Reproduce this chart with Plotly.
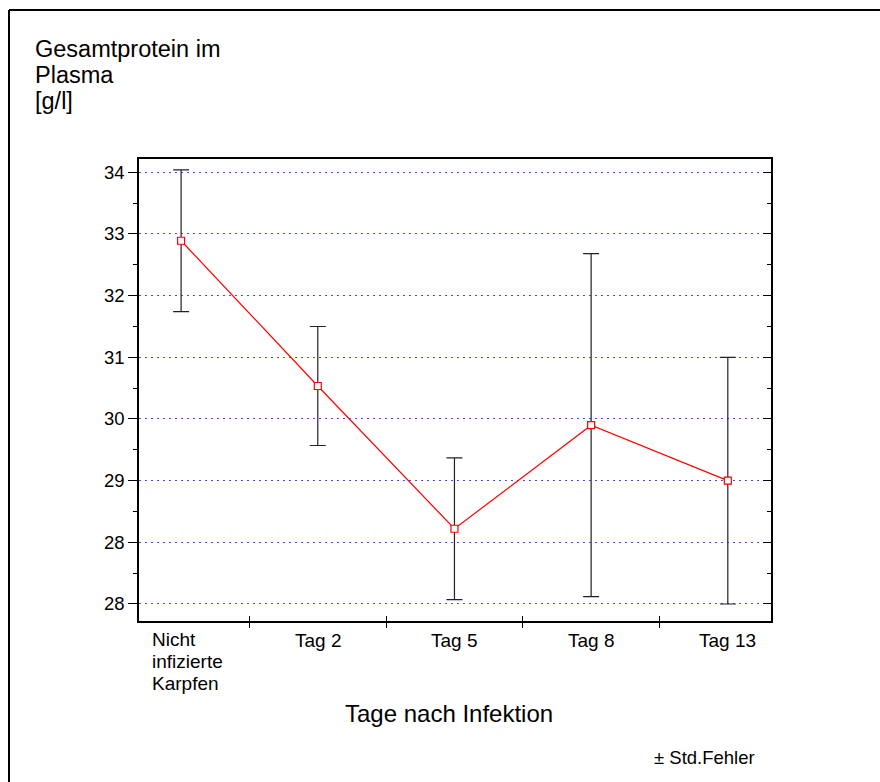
import plotly.graph_objects as go

# ---- data ----
categories = ["Nicht\ninfizierte\nKarpfen", "Tag 2", "Tag 5", "Tag 8", "Tag 13"]
means = [32.89, 30.535, 28.22, 29.90, 29.00]
std_err = [1.15, 0.965, 1.15, 2.78, 2.00]
y_tickvals = [27, 28, 29, 30, 31, 32, 33, 34]
y_ticktext = ["28", "28", "29", "30", "31", "32", "33", "34"]
x_divider_ticks = [0.5, 1.5, 2.5, 3.5]

W, H = 880, 782
L, R, T, B = 139, 109, 159, 161
PW, PH = W - L - R, H - T - B
FONT = "Liberation Sans, Arial, sans-serif"


def px_x(p):
    return (p - L) / PW


def px_y(p):
    return (H - B - p) / PH


xi = list(range(len(categories)))

fig = go.Figure()
fig.add_trace(go.Scatter(
    x=xi, y=means, mode="lines+markers",
    line=dict(color="#ff0000", width=1.2),
    marker=dict(symbol="square", size=7, color="white",
                line=dict(color="#ff0000", width=1.2)),
    error_y=dict(type="data", array=std_err, symmetric=True,
                 color="#222222", thickness=1.2, width=8),
    showlegend=False, hoverinfo="x+y",
))
# invisible trace to activate secondary axes
fig.add_trace(go.Scatter(x=xi, y=means, xaxis="x2", yaxis="y2",
                         mode="markers", marker=dict(opacity=0),
                         showlegend=False, hoverinfo="skip"))

yr = [26.724, 34.216]
xr = [-0.308, 4.316]

fig.update_layout(
    width=W, height=H,
    margin=dict(l=L, r=R, t=T, b=B),
    paper_bgcolor="white", plot_bgcolor="white",
    font=dict(family=FONT, size=19, color="black"),
    xaxis=dict(range=xr, tickvals=x_divider_ticks, ticks="outside",
               ticklen=5, tickwidth=1, tickcolor="black",
               showticklabels=False, showgrid=False, zeroline=False,
               showline=True, linecolor="black", linewidth=1.5, mirror=True),
    xaxis2=dict(range=xr, overlaying="x", tickvals=x_divider_ticks,
                ticks="inside", ticklen=5, tickwidth=1, tickcolor="black",
                showticklabels=False, showgrid=False, zeroline=False,
                showline=False),
    yaxis=dict(range=yr, tickvals=y_tickvals, ticktext=y_ticktext,
               ticks="outside", ticklen=9, tickwidth=1, tickcolor="black",
               tickfont=dict(size=18.5), showgrid=True, gridcolor="#4a4aff",
               griddash="2px,4px", gridwidth=1, zeroline=False,
               showline=True, linecolor="black", linewidth=1.5, mirror=True,
               minor=dict(dtick=0.5, tick0=0.5, ticks="outside", ticklen=4,
                          tickwidth=1, tickcolor="black", showgrid=False)),
    yaxis2=dict(range=yr, overlaying="y", side="right", tickvals=y_tickvals,
                ticks="inside", ticklen=8, tickwidth=1, tickcolor="black",
                showticklabels=False, showgrid=False, zeroline=False,
                showline=False,
                minor=dict(dtick=0.5, tick0=0.5, ticks="inside", ticklen=4,
                           tickwidth=1, tickcolor="black", showgrid=False)),
)

annotations = []
# category labels
for i, lab in enumerate(categories):
    lines = lab.split("\n")
    for j, ln in enumerate(lines):
        if len(lines) > 1:
            annotations.append(dict(
                x=i, xref="x", y=px_y(628 + 22 * j), yref="paper",
                text=ln, showarrow=False, xanchor="left", yanchor="top",
                xshift=-30, font=dict(size=19), borderpad=0))
        else:
            annotations.append(dict(
                x=i, xref="x", y=px_y(629), yref="paper",
                text=ln, showarrow=False, xanchor="center", yanchor="top",
                font=dict(size=19), borderpad=0))

# y title (three lines)
for j, ln in enumerate(["Gesamtprotein im", "Plasma", "[g/l]"]):
    annotations.append(dict(
        x=px_x(34), xref="paper", y=px_y(35 + 26 * j), yref="paper",
        text=ln, showarrow=False, xanchor="left", yanchor="top",
        font=dict(size=23.5), borderpad=0))

annotations.append(dict(
    x=px_x(449), xref="paper", y=px_y(713), yref="paper",
    text="Tage nach Infektion", showarrow=False, xanchor="center",
    yanchor="middle", font=dict(size=24)))
annotations.append(dict(
    x=px_x(652), xref="paper", y=px_y(757), yref="paper",
    text="± Std.Fehler", showarrow=False, xanchor="left",
    yanchor="middle", font=dict(size=18.5)))
fig.update_layout(annotations=annotations)

# outer frame (top and left edges)
fig.add_shape(type="line", xref="paper", yref="paper",
              x0=px_x(9), x1=px_x(W), y0=px_y(10), y1=px_y(10),
              line=dict(color="black", width=2))
fig.add_shape(type="line", xref="paper", yref="paper",
              x0=px_x(9), x1=px_x(9), y0=px_y(10), y1=px_y(H),
              line=dict(color="black", width=2))

fig.write_html(
    "out.html",
    config={"displayModeBar": False},
    post_script="document.documentElement.style.overflow='hidden';"
                "document.body.style.margin='0';"
                "document.body.style.overflow='hidden';",
)
